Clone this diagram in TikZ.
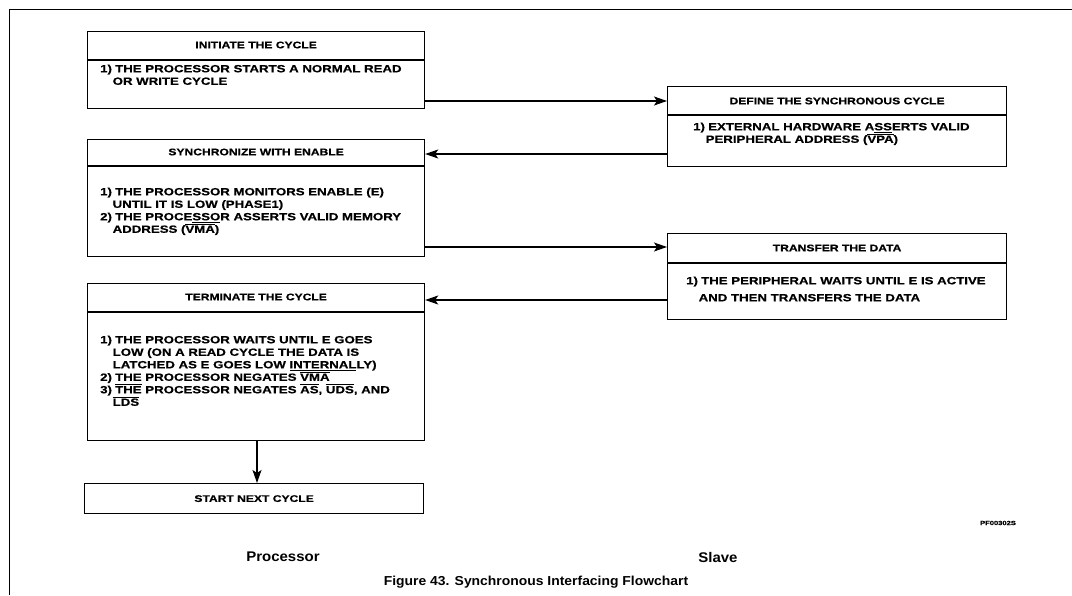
\documentclass[tikz,border=0pt]{standalone}
\usepackage{fontspec}
\usetikzlibrary{arrows.meta}
\newfontfamily\boxfont{Liberation Sans}[FakeStretch=1.26,FakeBold=0.6]
\newfontfamily\capfont{Liberation Sans}[FakeStretch=1.07]
\newcommand{\ovl}[1]{$\overline{\mbox{#1}}$}
\newcommand{\unl}[1]{$\underline{\mbox{#1}}$}
\newcommand{\itm}[1]{\makebox[15pt][l]{#1}}
\newcommand{\cnt}{\hspace*{12.5pt}}
\tikzset{
  boxr/.style={draw, line width=1.2pt, inner sep=0pt, anchor=north west},
  divline/.style={line width=1.2pt},
  hdr/.style={font=\boxfont\bfseries\fontsize{9.6}{11}\selectfont, inner sep=0pt},
  body/.style={font=\boxfont\bfseries\fontsize{10.5}{12.5}\selectfont, align=left, inner sep=0pt, anchor=north west},
  arr/.style={line width=1.2pt, -{Stealth[length=13pt,width=9pt,inset=3pt]}},
  lbl/.style={font=\capfont\bfseries\fontsize{14}{16}\selectfont, inner sep=0pt},
  frame/.style={line width=0.8pt}
}
\begin{document}
\begin{tikzpicture}[x=1pt,y=-1pt]
\useasboundingbox (0,0) rectangle (1072,595);
\draw[frame] (1072,9) -- (9,9) -- (9,595);

% boxes
\node[boxr, minimum width=337pt, minimum height=77pt] (b1) at (87,31) {};
\node[boxr, minimum width=339pt, minimum height=80pt] (bA) at (667,86) {};
\node[boxr, minimum width=337pt, minimum height=117pt] (b2) at (87,139) {};
\node[boxr, minimum width=339pt, minimum height=86pt] (bB) at (667,233) {};
\node[boxr, minimum width=337pt, minimum height=157pt] (b3) at (87,283) {};
\node[boxr, minimum width=339pt, minimum height=30pt] (b4) at (84,483) {};

% dividers
\draw[divline] (b1.west |- 0,60) -- (b1.east |- 0,60);
\draw[divline] (bA.west |- 0,115) -- (bA.east |- 0,115);
\draw[divline] (b2.west |- 0,166) -- (b2.east |- 0,166);
\draw[divline] (bB.west |- 0,263) -- (bB.east |- 0,263);
\draw[divline] (b3.west |- 0,312) -- (b3.east |- 0,312);

% headers
\node[hdr] (h1) at (b1.center |- 0,45) {INITIATE THE CYCLE};
\node[hdr] (hA) at (bA.center |- 0,101) {DEFINE THE SYNCHRONOUS CYCLE};
\node[hdr] (h2) at (b2.center |- 0,152) {SYNCHRONIZE WITH ENABLE};
\node[hdr] (hB) at (bB.center |- 0,248) {TRANSFER THE DATA};
\node[hdr] (h3) at (b3.center |- 0,297) {TERMINATE THE CYCLE};
\node[hdr] (h4) at (b4.center) {START NEXT CYCLE};

% bodies
\node[body] (t1) at (100,64.5) {\itm{1)}THE PROCESSOR STARTS A NORMAL READ\\
\cnt OR WRITE CYCLE};
\node[body] (tA) at (693,122.5) {\itm{1)}EXTERNAL HARDWARE A\unl{SS}ERTS VALID\\
\cnt PERIPHERAL ADDRESS (\ovl{VPA})};
\node[body] (t2) at (100,187.5) {\itm{1)}THE PROCESSOR MONITORS ENABLE (E)\\
\cnt UNTIL IT IS LOW (PHASE1)\\
\itm{2)}THE PROCE\unl{SSO}R ASSERTS VALID MEMORY\\
\cnt ADDRESS (\ovl{VMA})};
\node[body] (tB) at (686,276.5) {\itm{1)}THE PERIPHERAL WAITS UNTIL E IS ACTIVE\\[4.5pt]
\cnt AND THEN TRANSFERS THE DATA};
\node[body] (t3) at (100,335.5) {\itm{1)}THE PROCESSOR WAITS UNTIL E GOES\\
\cnt LOW (ON A READ CYCLE THE DATA IS\\
\cnt LATCHED AS E GOES LOW \unl{INTERNAL}LY)\\
\itm{2)}THE PROCESSOR NEGATES \ovl{VMA}\\
\itm{3)}\ovl{THE} PROCESSOR NEGATES \ovl{AS}, \ovl{UDS}, AND\\
\cnt \ovl{LDS}};

% connectors
\draw[arr] (b1.east |- 0,101) -- (bA.west |- 0,101);
\draw[arr] (bA.west |- 0,154) -- (b2.east |- 0,154);
\draw[arr] (b2.east |- 0,247) -- (bB.west |- 0,247);
\draw[arr] (bB.west |- 0,300) -- (b3.east |- 0,300);
\draw[arr] (b3.south -| 257,0) -- (b4.north -| 257,0);

% labels
\node[lbl] (proc) at (283,557) {Processor};
\node[lbl] (slave) at (718,557) {Slave};
\node[font=\capfont\bfseries\fontsize{13}{15}\selectfont, inner sep=0pt] (fig) at (536,582) {Figure 43. Synchronous Interfacing Flowchart};
\node[font=\boxfont\bfseries\fontsize{6}{7}\selectfont, inner sep=0pt] (pf) at (998,523) {PF00302S};
\end{tikzpicture}
\end{document}
